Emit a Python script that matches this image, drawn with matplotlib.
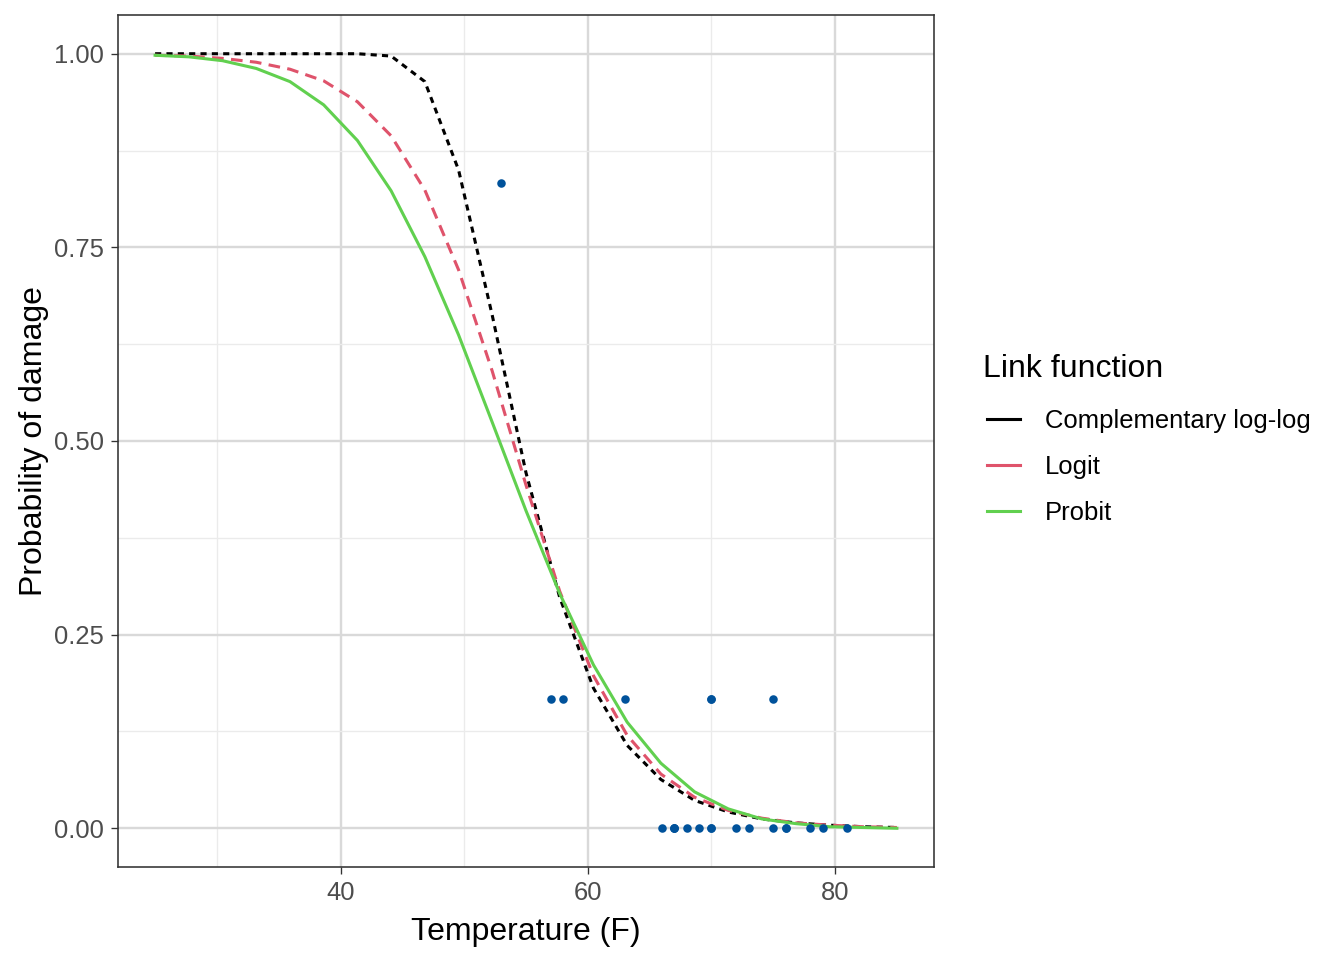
import matplotlib
matplotlib.use("Agg")
import matplotlib.pyplot as plt
from matplotlib.lines import Line2D

plt.rcParams["font.family"] = ["Liberation Sans", "DejaVu Sans"]

# prediction grid (23 evenly spaced temperatures from 25 to 85)
temp_grid = [25.0, 27.727, 30.455, 33.182, 35.909, 38.636, 41.364, 44.091,
             46.818, 49.545, 52.273, 55.0, 57.727, 60.455, 63.182, 65.909,
             68.636, 71.364, 74.091, 76.818, 79.545, 82.273, 85.0]

p_cloglog = [1.000, 1.000, 1.000, 1.000, 1.000, 1.000, 1.000, 0.997,
             0.964, 0.850, 0.662, 0.459, 0.298, 0.181, 0.107, 0.063,
             0.036, 0.021, 0.012, 0.007, 0.004, 0.002, 0.001]
p_logit = [0.998, 0.997, 0.994, 0.989, 0.980, 0.965, 0.938, 0.894,
           0.824, 0.721, 0.590, 0.443, 0.306, 0.197, 0.120, 0.070,
           0.040, 0.023, 0.013, 0.007, 0.004, 0.002, 0.001]
p_probit = [0.998, 0.996, 0.991, 0.981, 0.964, 0.934, 0.888, 0.823,
            0.738, 0.637, 0.524, 0.410, 0.303, 0.211, 0.137, 0.084,
            0.047, 0.025, 0.012, 0.006, 0.002, 0.001, 0.000]

# observed proportion damaged (out of 6)
obs_temp = [53, 57, 58, 63, 66, 67, 67, 67, 68, 69, 70, 70, 70, 70,
            72, 73, 75, 75, 76, 76, 78, 79, 81]
obs_prop = [5/6, 1/6, 1/6, 1/6, 0, 0, 0, 0, 0, 0, 1/6, 0, 1/6, 0,
            0, 0, 0, 1/6, 0, 0, 0, 0, 0]

link_names = ["Complementary log-log", "Logit", "Probit"]
link_colors = ["#000000", "#DF536B", "#61D04F"]

fig = plt.figure(figsize=(7, 5), dpi=192)
ax = fig.add_axes([118 / 1344, 1 - 867 / 960, 816 / 1344, 852 / 960])

lw = 1.15
ax.plot(temp_grid, p_cloglog, color=link_colors[0], lw=lw, dashes=(2.0, 1.7), zorder=3)
ax.plot(temp_grid, p_logit, color=link_colors[1], lw=lw, dashes=(3.8, 2.4), zorder=3)
ax.plot(temp_grid, p_probit, color=link_colors[2], lw=lw, zorder=3)
ax.plot(obs_temp, obs_prop, "o", color="#00529B", markersize=3.2, markeredgewidth=0, zorder=4)

ax.set_xlim(22, 88)
ax.set_ylim(-0.05, 1.05)
ax.set_xticks([40, 60, 80])
ax.set_yticks([0, 0.25, 0.5, 0.75, 1.0])
ax.set_yticklabels(["0.00", "0.25", "0.50", "0.75", "1.00"])
ax.set_xticks([30, 50, 70], minor=True)
ax.set_yticks([0.125, 0.375, 0.625, 0.875], minor=True)
ax.grid(which="major", color="#D9D9D9", lw=0.9, zorder=0)
ax.grid(which="minor", color="#EBEBEB", lw=0.5, zorder=0)
ax.set_axisbelow(True)
ax.tick_params(which="major", direction="out", length=2.75, width=0.5,
               color="#333333", labelcolor="#4D4D4D", labelsize=9.6, pad=2.5)
ax.tick_params(which="minor", length=0)
for s in ax.spines.values():
    s.set_color("#333333")
    s.set_linewidth(0.6)

ax.set_xlabel("Temperature (F)", fontsize=12, labelpad=4.5)
ax.set_ylabel("Probability of damage", fontsize=12, labelpad=2)

# legend: title placed separately so the gap below it matches
ax.text(1.060, 0.584, "Link function", transform=ax.transAxes,
        fontsize=12, ha="left", va="center")
handles = [Line2D([], [], color=c, lw=lw) for c in link_colors]
ax.legend(handles, link_names, loc="center left",
          bbox_to_anchor=(1.065, 0.4695), frameon=False, fontsize=9.6,
          handlelength=1.3, handletextpad=0.97,
          labelspacing=0.87, borderpad=0, borderaxespad=0)

fig.savefig("out.png", dpi=192)
